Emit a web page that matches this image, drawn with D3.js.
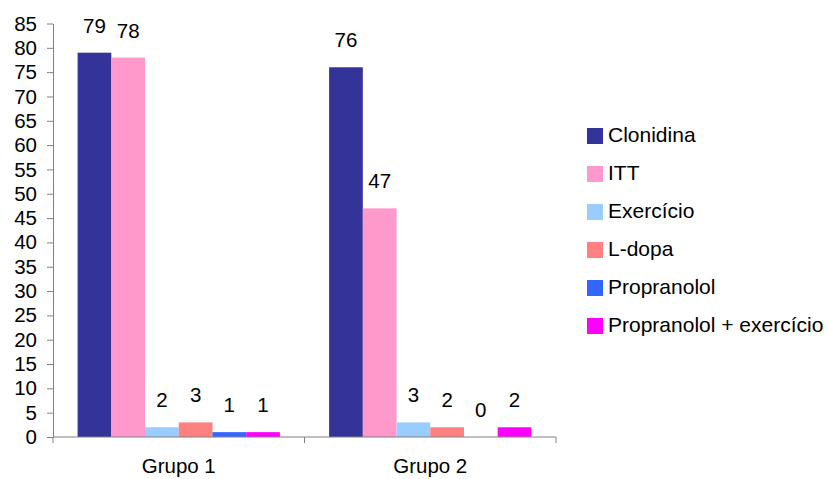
<!DOCTYPE html>
<html>
<head>
<meta charset="utf-8">
<script src="https://cdn.jsdelivr.net/npm/d3@7"></script>
<style>
  html, body { margin: 0; padding: 0; background: #fff; }
  svg { display: block; font-family: Arial, "Liberation Sans", sans-serif; }
</style>
</head>
<body>
<svg id="chart" width="829" height="479"></svg>
<script>
// Groups and treatments
const groups = ["Grupo 1", "Grupo 2"];
const treatments = ["Clonidina", "ITT", "Exercício", "L-dopa", "Propranolol", "Propranolol + exercício"];
const colors = ["#333399", "#FF99CC", "#99CCFF", "#FF8080", "#3366FF", "#FF00FF"];

// Values per treatment, one entry per group
const clonidina = [79, 76];
const itt = [78, 47];
const exercicio = [2, 3];
const ldopa = [3, 2];
const propranolol = [1, 0];
const propranololExercicio = [1, 2];

const yTicks = d3.range(0, 90, 5);

const seriesValues = [clonidina, itt, exercicio, ldopa, propranolol, propranololExercicio];
const rows = [];
groups.forEach((g, gi) => {
  treatments.forEach((t, ti) => {
    rows.push({ group: g, treatment: t, value: seriesValues[ti][gi], color: colors[ti] });
  });
});

const svg = d3.select("#chart");
const plot = { left: 53, right: 556, top: 23.5, bottom: 437 };
const axisColor = "#808080";
const fontSize = 20.5;

const x0 = d3.scaleBand().domain(groups).range([plot.left, plot.right]).paddingInner(0).paddingOuter(0);
const x1 = d3.scaleBand().domain(treatments).range([0, x0.bandwidth()]).paddingOuter(0.73).paddingInner(0);
const y = d3.scaleLinear().domain([0, 85]).range([plot.bottom, plot.top]);

// Bars
svg.append("g").selectAll("rect").data(rows).join("rect")
  .attr("x", d => x0(d.group) + x1(d.treatment))
  .attr("y", d => y(d.value))
  .attr("width", x1.bandwidth())
  .attr("height", d => y(0) - y(d.value))
  .attr("fill", d => d.color);

// Value labels
svg.append("g").selectAll("text").data(rows).join("text")
  .attr("x", d => x0(d.group) + x1(d.treatment) + x1.bandwidth() / 2)
  .attr("y", d => y(d.value) - 20)
  .attr("text-anchor", "middle")
  .attr("font-size", fontSize)
  .attr("fill", "#000")
  .text(d => d.value);

// Y axis
const yAxis = svg.append("g")
  .attr("transform", `translate(${plot.left},0)`)
  .call(d3.axisLeft(y).tickValues(yTicks).tickSize(6).tickPadding(10).tickSizeOuter(0));
yAxis.select(".domain").attr("stroke", axisColor);
yAxis.selectAll(".tick line").attr("stroke", axisColor);
yAxis.selectAll(".tick text").attr("font-size", fontSize).attr("fill", "#000").attr("font-family", null);

// X axis line and group separators
const xAxis = svg.append("g");
xAxis.append("line")
  .attr("x1", plot.left).attr("x2", plot.right)
  .attr("y1", y(0)).attr("y2", y(0))
  .attr("stroke", axisColor);
const boundaries = groups.map(g => x0(g)).concat([x0(groups[groups.length - 1]) + x0.bandwidth()]);
xAxis.selectAll("line.sep").data(boundaries).join("line")
  .attr("class", "sep")
  .attr("x1", d => d).attr("x2", d => d)
  .attr("y1", y(0)).attr("y2", y(0) + 6)
  .attr("stroke", axisColor);
xAxis.selectAll("text").data(groups).join("text")
  .attr("x", d => x0(d) + x0.bandwidth() / 2)
  .attr("y", 473)
  .attr("text-anchor", "middle")
  .attr("font-size", fontSize)
  .attr("fill", "#000")
  .text(d => d);

// Legend
const legend = svg.append("g").attr("transform", "translate(587,128)");
const items = legend.selectAll("g").data(treatments).join("g")
  .attr("transform", (d, i) => `translate(0,${i * 38})`);
items.append("rect")
  .attr("width", 16).attr("height", 16)
  .attr("fill", (d, i) => colors[i]);
items.append("text")
  .attr("x", 21).attr("y", 14)
  .attr("font-size", 21)
  .attr("fill", "#000")
  .text(d => d);
</script>
</body>
</html>
